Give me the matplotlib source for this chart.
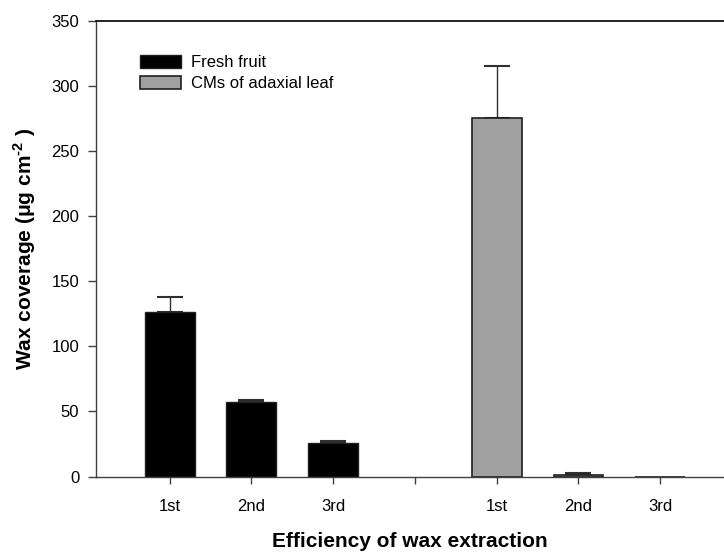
import matplotlib.pyplot as plt

plt.rcParams['font.family'] = ['Liberation Sans', 'DejaVu Sans']
plt.rcParams['mathtext.fontset'] = 'custom'
plt.rcParams['mathtext.bf'] = 'Liberation Sans:bold'
plt.rcParams['mathtext.rm'] = 'Liberation Sans'

# extraction steps, two sample groups
tick_labels = ["1st", "2nd", "3rd", "", "1st", "2nd", "3rd"]
fruit_pos = [1, 2, 3]
fruit_vals = [126, 57, 26]
fruit_err = [12, 2, 1.5]
leaf_pos = [5, 6, 7]
leaf_vals = [275, 1.5, 0]
leaf_err = [40, 1, 0]

fig = plt.figure(figsize=(7.24, 5.53), dpi=100)
ax = fig.add_axes([0.1326, 0.1383, 0.8674, 0.8246])


def upper_errors(pos, vals, err):
    # only the upper half of each error bar, skipping empty ones
    keep = [i for i, e in enumerate(err) if e > 0]
    ax.errorbar([pos[i] for i in keep], [vals[i] for i in keep],
                yerr=[[0] * len(keep), [err[i] for i in keep]], fmt="none",
                ecolor="#303030", elinewidth=1, capsize=9.5, capthick=1.5,
                zorder=1)


w = 0.61
ax.bar(fruit_pos, fruit_vals, width=w, color="black", edgecolor="#202020",
       linewidth=1, label="Fresh fruit", zorder=2)
upper_errors(fruit_pos, fruit_vals, fruit_err)
ax.bar(leaf_pos, leaf_vals, width=w, color="#a0a0a0", edgecolor="#202020",
       linewidth=1.2, label="CMs of adaxial leaf", zorder=2)
upper_errors(leaf_pos, leaf_vals, leaf_err)

ax.set_xlim(0.1, 7.78)
ax.set_ylim(0, 350)
ax.set_xticks(range(1, 8))
ax.set_xticklabels(tick_labels)
ax.set_yticks(range(0, 351, 50))

for s in ["left", "bottom"]:
    ax.spines[s].set_color("#404040")
    ax.spines[s].set_linewidth(1)
ax.spines["top"].set_linewidth(1.2)
ax.spines["top"].set_color("black")
ax.spines["right"].set_visible(False)

ax.tick_params(axis="x", length=5, width=1, color="#404040", pad=11, labelsize=12)
ax.tick_params(axis="y", length=6, width=1, color="#404040", pad=6, labelsize=12)

ax.set_xlabel("Efficiency of wax extraction", fontsize=15, fontweight="bold",
              labelpad=13)
ax.set_ylabel("Wax coverage ($\\mathbf{\\mu}$g cm$^{\\mathbf{\u2010 2}}$ )",
              fontsize=15, fontweight="bold", labelpad=10)

ax.legend(loc="upper left", bbox_to_anchor=(0.059, 0.94), frameon=False,
          fontsize=12, handlelength=2.45, handleheight=0.85, handletextpad=0.6,
          labelspacing=0.35, borderaxespad=0)

fig.savefig("out.png", dpi=100)
